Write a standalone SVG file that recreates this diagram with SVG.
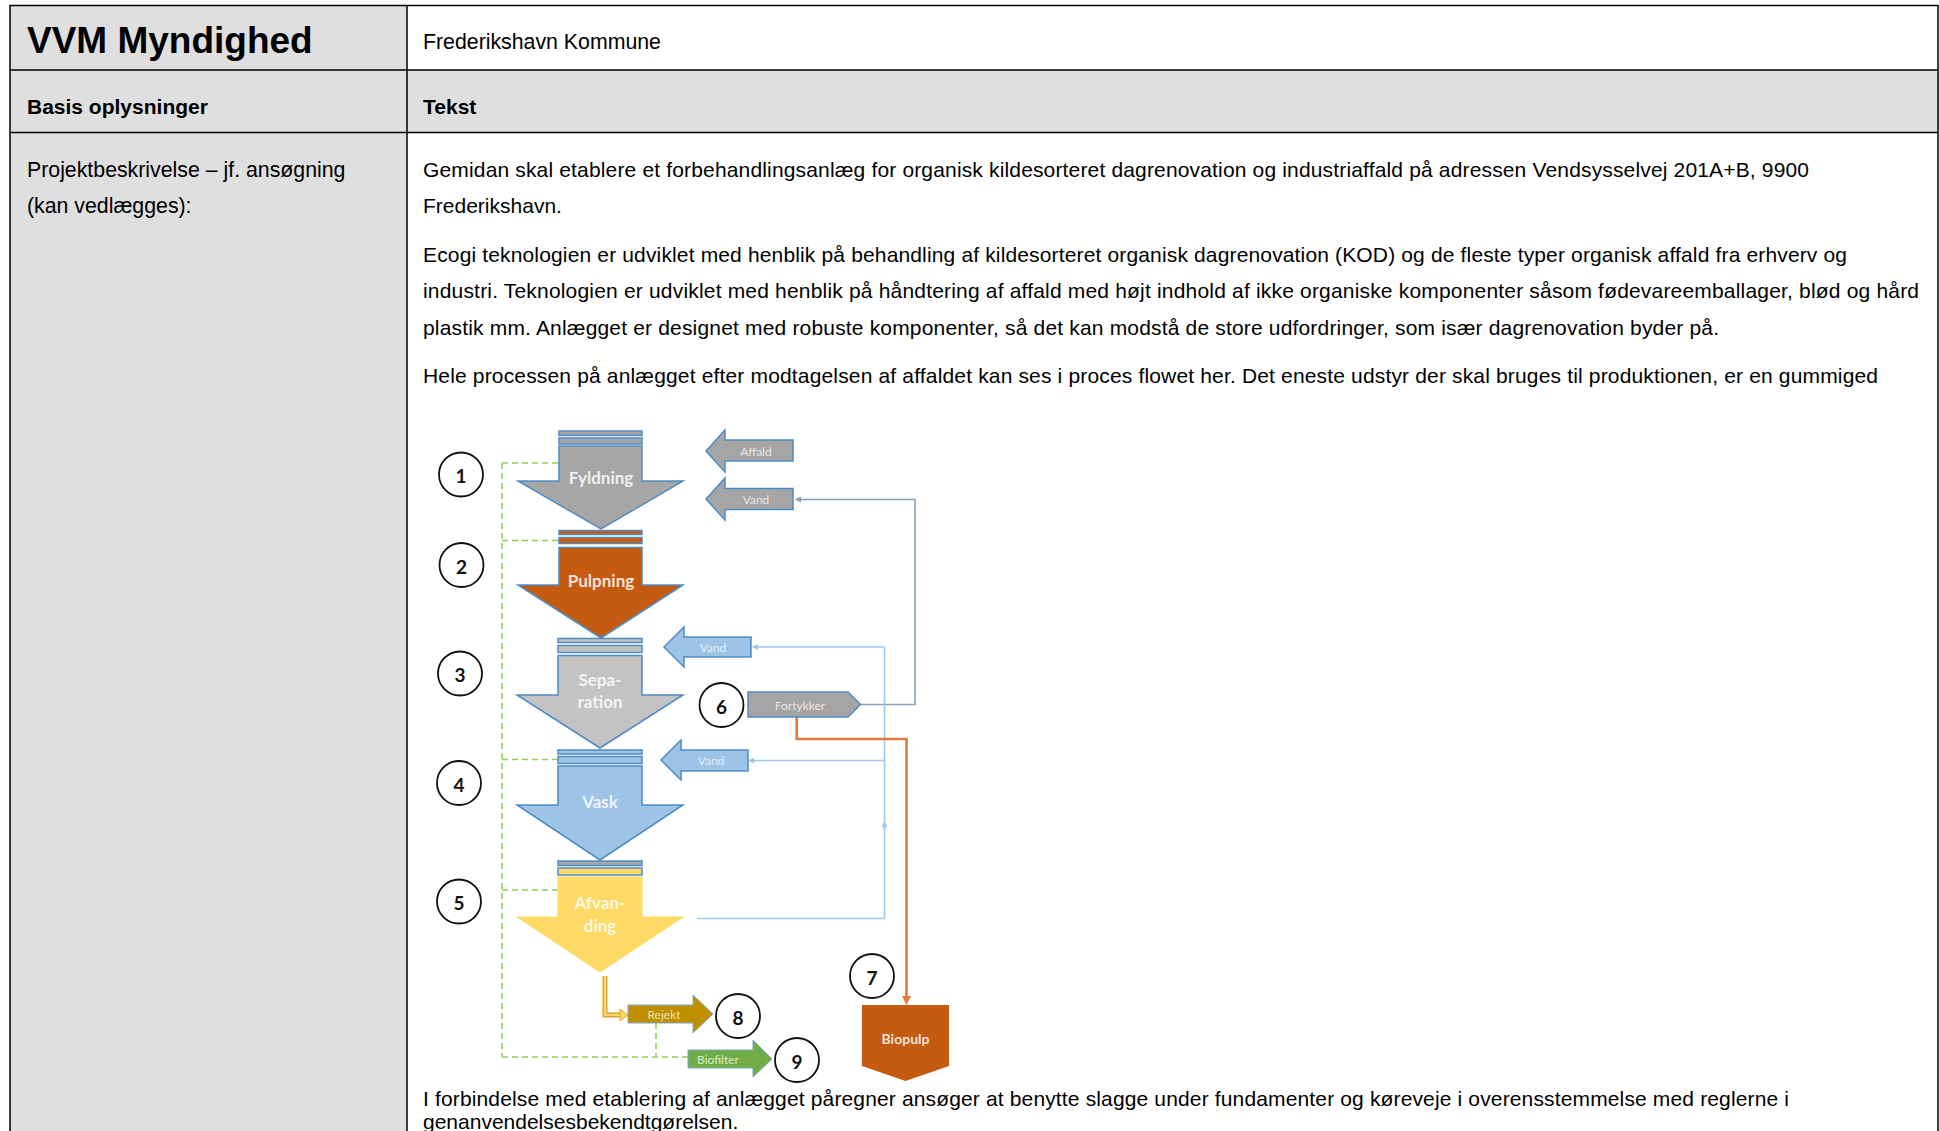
<svg xmlns="http://www.w3.org/2000/svg" width="1939" height="1131" viewBox="0 0 1939 1131">
<style>
.t{font-family:"Liberation Sans",Arial,sans-serif;font-size:21px;fill:#000}
.b{font-weight:bold}
.grid{stroke:#000;stroke-width:1.5;fill:none}
.lbl{font-family:Lato,"Open Sans",sans-serif;font-weight:bold;fill:#fff;fill-opacity:0.85;text-anchor:middle;dominant-baseline:central}
.big{font-size:17px}
.sm{font-size:12px;font-weight:normal;fill-opacity:0.75}
.num circle{fill:#fff;stroke:#111;stroke-width:1.8}
.num text{font-family:Lato,"Open Sans",sans-serif;font-weight:bold;font-size:19px;fill:#111;text-anchor:middle;dominant-baseline:central}
.ol{stroke:#4f8cc5;stroke-width:1.5}
.dash{stroke:#92d050;stroke-width:1.6;stroke-dasharray:6 4;fill:none}
.blue{stroke:#9cc8ee;stroke-width:1.6;fill:none}
</style>
<defs>
<marker id="ab" markerWidth="6" markerHeight="6" refX="5" refY="3" orient="auto" markerUnits="userSpaceOnUse"><path d="M0,0 L6,3 L0,6 Z" fill="#9cc8ee"/></marker>
<marker id="ag" markerWidth="6" markerHeight="6" refX="5" refY="3" orient="auto" markerUnits="userSpaceOnUse"><path d="M0,0 L6,3 L0,6 Z" fill="#8aa0b8"/></marker>
<marker id="ao" markerWidth="9" markerHeight="9" refX="7" refY="4.5" orient="auto" markerUnits="userSpaceOnUse"><path d="M0,0 L9,4.5 L0,9 Z" fill="#e07b39"/></marker>
</defs>

<!-- table -->
<g id="table">
<rect x="10" y="5.5" width="397" height="1130" fill="#dfdfdf"/>
<rect x="407" y="70" width="1531" height="62.5" fill="#dfdfdf"/>
<rect x="10" y="5.5" width="1928" height="1130" class="grid"/>
<line x1="10" y1="70" x2="1938" y2="70" class="grid"/>
<line x1="10" y1="132.5" x2="1938" y2="132.5" class="grid"/>
<line x1="407" y1="5.5" x2="407" y2="1135" class="grid"/>
<text x="27" y="53" class="t b" style="font-size:37px">VVM Myndighed</text>
<text x="423" y="49" class="t" style="font-size:21.3px">Frederikshavn Kommune</text>
<text x="27" y="114" class="t b">Basis oplysninger</text>
<text x="423" y="114" class="t b">Tekst</text>
<text x="27" y="177" class="t" style="font-size:21.3px">Projektbeskrivelse – jf. ansøgning</text>
<text x="27" y="213" class="t" style="font-size:21.3px">(kan vedlægges):</text>
<text x="423" y="177" class="t" textLength="1386" lengthAdjust="spacing">Gemidan skal etablere et forbehandlingsanlæg for organisk kildesorteret dagrenovation og industriaffald på adressen Vendsysselvej 201A+B, 9900</text>
<text x="423" y="213" class="t">Frederikshavn.</text>
<text x="423" y="262" class="t" textLength="1424" lengthAdjust="spacing">Ecogi teknologien er udviklet med henblik på behandling af kildesorteret organisk dagrenovation (KOD) og de fleste typer organisk affald fra erhverv og</text>
<text x="423" y="298" class="t" textLength="1496" lengthAdjust="spacing">industri. Teknologien er udviklet med henblik på håndtering af affald med højt indhold af ikke organiske komponenter såsom fødevareemballager, blød og hård</text>
<text x="423" y="335" class="t" textLength="1296" lengthAdjust="spacing">plastik mm. Anlægget er designet med robuste komponenter, så det kan modstå de store udfordringer, som især dagrenovation byder på.</text>
<text x="423" y="383" class="t" textLength="1455" lengthAdjust="spacing">Hele processen på anlægget efter modtagelsen af affaldet kan ses i proces flowet her. Det eneste udstyr der skal bruges til produktionen, er en gummiged</text>
<text x="423" y="1106" class="t" textLength="1366" lengthAdjust="spacing">I forbindelse med etablering af anlægget påregner ansøger at benytte slagge under fundamenter og køreveje i overensstemmelse med reglerne i</text>
<text x="423" y="1129" class="t">genanvendelsesbekendtgørelsen.</text>
</g>

<!-- connectors -->
<g id="connectors">
<path class="dash" d="M502,463 V1057 M502,463 H559 M502,540.5 H559 M502,759.5 H559 M502,890 H559 M502,1057 H688 M656,1023 V1057"/>
<path d="M860.5,704.5 H915 V499.5 H796" fill="none" stroke="#8aa0b8" stroke-width="1.6" marker-end="url(#ag)"/>
<path class="blue" d="M884.5,647 V918.5 H697"/>
<path class="blue" d="M884.5,647 H753" marker-end="url(#ab)"/>
<path class="blue" d="M884.5,760.5 H749" marker-end="url(#ab)"/>
<path class="blue" d="M884.5,830 V822" marker-end="url(#ab)"/>
<path d="M796.7,717 V739 H906.5 V1003" fill="none" stroke="#e07b39" stroke-width="2.6" marker-end="url(#ao)"/>
<path d="M605,976 V1015 H622" fill="none" stroke="#d9a530" stroke-width="5"/>
<path d="M605,976 V1015 H622" fill="none" stroke="#ffd966" stroke-width="2.2"/>
<path d="M620,1009 L628,1015 L620,1021 Z" fill="#ffd966" stroke="#d9a530" stroke-width="1"/>
</g>

<!-- process arrows -->
<g id="fyldning">
<rect x="559" y="431" width="83" height="4.5" fill="#a6a6a6" class="ol"/>
<rect x="559" y="438" width="83" height="6" fill="#a6a6a6" class="ol"/>
<path d="M559,446 H642 V481 H683 L601,529 L518,481 H559 Z" fill="#a6a6a6" class="ol"/>
<text x="601" y="477" class="lbl big">Fyldning</text>
</g>
<g id="pulpning">
<rect x="559" y="530.5" width="83" height="4" fill="#c55a11" class="ol"/>
<rect x="559" y="537.5" width="83" height="6" fill="#c55a11" class="ol"/>
<path d="M559,547.5 H642 V585 H683 L601,638 L518,585 H559 Z" fill="#c55a11" class="ol"/>
<text x="601" y="580" class="lbl big">Pulpning</text>
</g>
<g id="separation">
<rect x="558" y="638.5" width="84" height="4" fill="#c3c3c3" class="ol"/>
<rect x="558" y="645.5" width="84" height="7" fill="#c3c3c3" class="ol"/>
<path d="M558,655.5 H642 V695 H683 L600,748 L517,695 H558 Z" fill="#c3c3c3" class="ol"/>
<text x="600" y="679" class="lbl big">Sepa-</text>
<text x="600" y="701" class="lbl big">ration</text>
</g>
<g id="vask">
<rect x="558" y="750" width="84" height="4" fill="#9dc3e6" class="ol"/>
<rect x="558" y="756.5" width="84" height="7" fill="#9dc3e6" class="ol"/>
<path d="M558,766 H642 V805 H683 L600,860 L517,805 H558 Z" fill="#9dc3e6" class="ol"/>
<text x="600" y="801" class="lbl big">Vask</text>
</g>
<g id="afvanding">
<rect x="558" y="861" width="84" height="4.5" fill="#a6a6a6" class="ol"/>
<rect x="558" y="868" width="84" height="7" fill="#ffd966" class="ol"/>
<path d="M558,877 H642 V917 H683 L600,972 L517,917 H558 Z" fill="#ffd966" stroke="#ffd966" stroke-width="1"/>
<text x="600" y="902" class="lbl big" fill-opacity="0.55">Afvan-</text>
<text x="600" y="925" class="lbl big" fill-opacity="0.55">ding</text>
</g>

<!-- inputs -->
<g id="affald">
<path d="M706,451 L725,430 V440 H793 V461 H725 V472 Z" fill="#a5a5a5" class="ol"/>
<text x="756" y="451" class="lbl sm">Affald</text>
</g>
<g id="vand1">
<path d="M706,499 L725,478 V488.5 H793 V509.5 H725 V520 Z" fill="#a5a5a5" class="ol"/>
<text x="756" y="499" class="lbl sm">Vand</text>
</g>
<g id="vand2">
<path d="M664,647 L684,627 V637 H751 V657 H684 V667 Z" fill="#9dc3e6" class="ol"/>
<text x="713" y="647" class="lbl sm">Vand</text>
</g>
<g id="vand3">
<path d="M661,760 L681,740 V750 H748 V771 H681 V780 Z" fill="#9dc3e6" class="ol"/>
<text x="711" y="760" class="lbl sm">Vand</text>
</g>
<g id="fortykker">
<path d="M748,692 H848 L860.5,704.5 L848,717 H748 Z" fill="#a5a5a5" class="ol"/>
<text x="800" y="705" class="lbl sm">Fortykker</text>
</g>
<g id="biopulp">
<path d="M862,1005 H949 V1066 L905.5,1081 L862,1066 Z" fill="#c55a11"/>
<text x="905.5" y="1038" class="lbl" style="font-size:14px">Biopulp</text>
</g>
<g id="rejekt">
<path d="M628,1005 H693 V995 L713,1014 L693,1033 V1023 H628 Z" fill="#bf8f00" stroke="#7fa7c9" stroke-width="1"/>
<text x="664" y="1014" class="lbl sm" fill-opacity="0.6">Rejekt</text>
</g>
<g id="biofilter">
<path d="M688,1050 H753 V1040 L772,1059 L753,1077 V1068 H688 Z" fill="#70ad47" stroke="#7fa7c9" stroke-width="1"/>
<text x="718" y="1059" class="lbl sm">Biofilter</text>
</g>

<!-- step numbers -->
<g id="n1" class="num"><circle cx="461" cy="474.5" r="22"/><text x="461" y="475">1</text></g>
<g id="n2" class="num"><circle cx="461.5" cy="565" r="22"/><text x="461.5" y="566">2</text></g>
<g id="n3" class="num"><circle cx="460" cy="673.5" r="22"/><text x="460" y="674">3</text></g>
<g id="n4" class="num"><circle cx="459" cy="783" r="22"/><text x="459" y="784">4</text></g>
<g id="n5" class="num"><circle cx="459" cy="901.5" r="22"/><text x="459" y="902">5</text></g>
<g id="n6" class="num"><circle cx="721.5" cy="705" r="22"/><text x="721.5" y="706">6</text></g>
<g id="n7" class="num"><circle cx="872" cy="976" r="22"/><text x="872" y="977">7</text></g>
<g id="n8" class="num"><circle cx="738" cy="1016" r="22"/><text x="738" y="1017">8</text></g>
<g id="n9" class="num"><circle cx="797" cy="1060" r="22"/><text x="797" y="1061">9</text></g>
</svg>
